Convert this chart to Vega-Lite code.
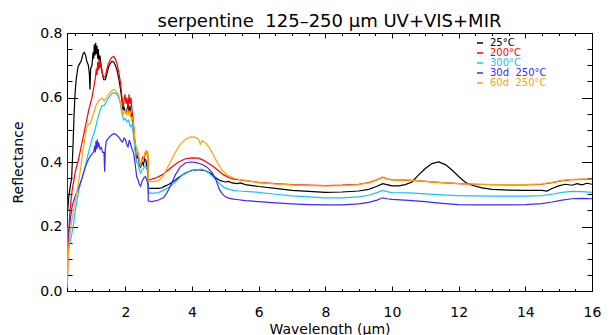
{
"$schema": "https://vega.github.io/schema/vega-lite/v6.json",
"width": 525, "height": 258,
"autosize": "none",
"padding": {"left": 67, "top": 33, "right": 18, "bottom": 44},
"background": "white",
"title": {"text": "serpentine\u00a0 125–250 μm UV+VIS+MIR", "font": "DejaVu Sans", "fontSize": 18, "fontWeight": "normal", "color": "black", "baseline": "alphabetic", "offset": -19, "anchor": "middle"},
"config": {"view": {"stroke": null}, "axis": {"domainColor": "black", "tickColor": "black", "labelColor": "black", "titleColor": "black", "labelFont": "DejaVu Sans", "titleFont": "DejaVu Sans", "labelFontSize": 14, "titleFontSize": 14, "titleFontWeight": "normal", "grid": false, "tickWidth": 1, "domainWidth": 1}},
"data": {"values": [
{"s":"25°C","w":0.25,"r":0.31},{"s":"25°C","w":0.27,"r":0.25},{"s":"25°C","w":0.30,"r":0.29},{"s":"25°C","w":0.34,"r":0.32},{"s":"25°C","w":0.39,"r":0.35},{"s":"25°C","w":0.43,"r":0.45},{"s":"25°C","w":0.46,"r":0.54},{"s":"25°C","w":0.49,"r":0.61},{"s":"25°C","w":0.53,"r":0.66},{"s":"25°C","w":0.58,"r":0.695},{"s":"25°C","w":0.63,"r":0.705},{"s":"25°C","w":0.68,"r":0.715},{"s":"25°C","w":0.73,"r":0.735},{"s":"25°C","w":0.77,"r":0.74},{"s":"25°C","w":0.81,"r":0.73},{"s":"25°C","w":0.85,"r":0.71},{"s":"25°C","w":0.89,"r":0.70},{"s":"25°C","w":0.92,"r":0.675},{"s":"25°C","w":0.94,"r":0.625},{"s":"25°C","w":0.96,"r":0.69},{"s":"25°C","w":1.00,"r":0.70},{"s":"25°C","w":1.03,"r":0.74},{"s":"25°C","w":1.05,"r":0.72},{"s":"25°C","w":1.07,"r":0.765},{"s":"25°C","w":1.09,"r":0.73},{"s":"25°C","w":1.11,"r":0.77},{"s":"25°C","w":1.13,"r":0.735},{"s":"25°C","w":1.15,"r":0.76},{"s":"25°C","w":1.17,"r":0.72},{"s":"25°C","w":1.19,"r":0.75},{"s":"25°C","w":1.21,"r":0.715},{"s":"25°C","w":1.24,"r":0.73},{"s":"25°C","w":1.27,"r":0.70},{"s":"25°C","w":1.31,"r":0.675},{"s":"25°C","w":1.35,"r":0.655},{"s":"25°C","w":1.40,"r":0.655},{"s":"25°C","w":1.45,"r":0.675},{"s":"25°C","w":1.50,"r":0.695},{"s":"25°C","w":1.55,"r":0.706},{"s":"25°C","w":1.60,"r":0.712},{"s":"25°C","w":1.65,"r":0.71},{"s":"25°C","w":1.70,"r":0.70},{"s":"25°C","w":1.75,"r":0.685},{"s":"25°C","w":1.80,"r":0.66},{"s":"25°C","w":1.85,"r":0.63},{"s":"25°C","w":1.90,"r":0.59},{"s":"25°C","w":1.93,"r":0.56},{"s":"25°C","w":1.96,"r":0.57},{"s":"25°C","w":2.00,"r":0.555},{"s":"25°C","w":2.05,"r":0.56},{"s":"25°C","w":2.08,"r":0.58},{"s":"25°C","w":2.11,"r":0.55},{"s":"25°C","w":2.14,"r":0.575},{"s":"25°C","w":2.17,"r":0.54},{"s":"25°C","w":2.20,"r":0.55},{"s":"25°C","w":2.24,"r":0.51},{"s":"25°C","w":2.28,"r":0.46},{"s":"25°C","w":2.31,"r":0.43},{"s":"25°C","w":2.34,"r":0.41},{"s":"25°C","w":2.38,"r":0.42},{"s":"25°C","w":2.42,"r":0.395},{"s":"25°C","w":2.46,"r":0.385},{"s":"25°C","w":2.50,"r":0.40},{"s":"25°C","w":2.54,"r":0.39},{"s":"25°C","w":2.58,"r":0.41},{"s":"25°C","w":2.62,"r":0.405},{"s":"25°C","w":2.65,"r":0.38},{"s":"25°C","w":2.68,"r":0.37},{"s":"25°C","w":2.69,"r":0.319},{"s":"25°C","w":2.80,"r":0.318},{"s":"25°C","w":2.90,"r":0.318},{"s":"25°C","w":3.00,"r":0.318},{"s":"25°C","w":3.10,"r":0.32},{"s":"25°C","w":3.20,"r":0.326},{"s":"25°C","w":3.30,"r":0.33},{"s":"25°C","w":3.45,"r":0.34},{"s":"25°C","w":3.60,"r":0.352},{"s":"25°C","w":3.80,"r":0.366},{"s":"25°C","w":4.00,"r":0.374},{"s":"25°C","w":4.20,"r":0.376},{"s":"25°C","w":4.40,"r":0.373},{"s":"25°C","w":4.55,"r":0.366},{"s":"25°C","w":4.70,"r":0.352},{"s":"25°C","w":4.85,"r":0.342},{"s":"25°C","w":5.00,"r":0.338},{"s":"25°C","w":5.10,"r":0.34},{"s":"25°C","w":5.20,"r":0.335},{"s":"25°C","w":5.35,"r":0.333},{"s":"25°C","w":5.45,"r":0.335},{"s":"25°C","w":5.60,"r":0.33},{"s":"25°C","w":6.00,"r":0.324},{"s":"25°C","w":6.50,"r":0.318},{"s":"25°C","w":7.00,"r":0.312},{"s":"25°C","w":7.50,"r":0.309},{"s":"25°C","w":8.00,"r":0.306},{"s":"25°C","w":8.50,"r":0.307},{"s":"25°C","w":9.00,"r":0.31},{"s":"25°C","w":9.30,"r":0.315},{"s":"25°C","w":9.55,"r":0.325},{"s":"25°C","w":9.72,"r":0.333},{"s":"25°C","w":9.85,"r":0.33},{"s":"25°C","w":10.00,"r":0.326},{"s":"25°C","w":10.20,"r":0.326},{"s":"25°C","w":10.40,"r":0.33},{"s":"25°C","w":10.60,"r":0.338},{"s":"25°C","w":10.80,"r":0.36},{"s":"25°C","w":11.00,"r":0.38},{"s":"25°C","w":11.20,"r":0.395},{"s":"25°C","w":11.40,"r":0.40},{"s":"25°C","w":11.60,"r":0.392},{"s":"25°C","w":11.80,"r":0.375},{"s":"25°C","w":12.00,"r":0.355},{"s":"25°C","w":12.20,"r":0.337},{"s":"25°C","w":12.40,"r":0.328},{"s":"25°C","w":12.70,"r":0.32},{"s":"25°C","w":13.00,"r":0.315},{"s":"25°C","w":13.50,"r":0.313},{"s":"25°C","w":14.00,"r":0.312},{"s":"25°C","w":14.50,"r":0.312},{"s":"25°C","w":14.65,"r":0.31},{"s":"25°C","w":14.80,"r":0.318},{"s":"25°C","w":15.00,"r":0.326},{"s":"25°C","w":15.20,"r":0.331},{"s":"25°C","w":15.40,"r":0.328},{"s":"25°C","w":15.55,"r":0.333},{"s":"25°C","w":15.70,"r":0.329},{"s":"25°C","w":15.85,"r":0.334},{"s":"25°C","w":16.00,"r":0.331},
{"s":"200°C","w":0.25,"r":0.03},{"s":"200°C","w":0.26,"r":0.02},{"s":"200°C","w":0.29,"r":0.15},{"s":"200°C","w":0.34,"r":0.25},{"s":"200°C","w":0.40,"r":0.31},{"s":"200°C","w":0.50,"r":0.37},{"s":"200°C","w":0.60,"r":0.41},{"s":"200°C","w":0.70,"r":0.46},{"s":"200°C","w":0.80,"r":0.51},{"s":"200°C","w":0.90,"r":0.56},{"s":"200°C","w":1.00,"r":0.60},{"s":"200°C","w":1.05,"r":0.63},{"s":"200°C","w":1.10,"r":0.66},{"s":"200°C","w":1.13,"r":0.69},{"s":"200°C","w":1.15,"r":0.67},{"s":"200°C","w":1.17,"r":0.71},{"s":"200°C","w":1.19,"r":0.685},{"s":"200°C","w":1.21,"r":0.72},{"s":"200°C","w":1.23,"r":0.69},{"s":"200°C","w":1.26,"r":0.71},{"s":"200°C","w":1.30,"r":0.68},{"s":"200°C","w":1.35,"r":0.66},{"s":"200°C","w":1.40,"r":0.665},{"s":"200°C","w":1.45,"r":0.69},{"s":"200°C","w":1.50,"r":0.706},{"s":"200°C","w":1.55,"r":0.718},{"s":"200°C","w":1.60,"r":0.725},{"s":"200°C","w":1.65,"r":0.727},{"s":"200°C","w":1.70,"r":0.72},{"s":"200°C","w":1.75,"r":0.705},{"s":"200°C","w":1.80,"r":0.68},{"s":"200°C","w":1.85,"r":0.65},{"s":"200°C","w":1.90,"r":0.60},{"s":"200°C","w":1.93,"r":0.57},{"s":"200°C","w":1.96,"r":0.59},{"s":"200°C","w":1.99,"r":0.61},{"s":"200°C","w":2.02,"r":0.58},{"s":"200°C","w":2.05,"r":0.60},{"s":"200°C","w":2.08,"r":0.565},{"s":"200°C","w":2.11,"r":0.61},{"s":"200°C","w":2.14,"r":0.58},{"s":"200°C","w":2.17,"r":0.60},{"s":"200°C","w":2.20,"r":0.56},{"s":"200°C","w":2.24,"r":0.53},{"s":"200°C","w":2.28,"r":0.47},{"s":"200°C","w":2.31,"r":0.45},{"s":"200°C","w":2.34,"r":0.44},{"s":"200°C","w":2.37,"r":0.43},{"s":"200°C","w":2.40,"r":0.415},{"s":"200°C","w":2.44,"r":0.39},{"s":"200°C","w":2.48,"r":0.40},{"s":"200°C","w":2.52,"r":0.415},{"s":"200°C","w":2.56,"r":0.41},{"s":"200°C","w":2.60,"r":0.43},{"s":"200°C","w":2.63,"r":0.425},{"s":"200°C","w":2.66,"r":0.43},{"s":"200°C","w":2.68,"r":0.41},{"s":"200°C","w":2.69,"r":0.344},{"s":"200°C","w":2.80,"r":0.347},{"s":"200°C","w":2.95,"r":0.352},{"s":"200°C","w":3.10,"r":0.36},{"s":"200°C","w":3.25,"r":0.372},{"s":"200°C","w":3.40,"r":0.385},{"s":"200°C","w":3.60,"r":0.40},{"s":"200°C","w":3.80,"r":0.41},{"s":"200°C","w":4.00,"r":0.413},{"s":"200°C","w":4.20,"r":0.412},{"s":"200°C","w":4.35,"r":0.405},{"s":"200°C","w":4.50,"r":0.395},{"s":"200°C","w":4.65,"r":0.385},{"s":"200°C","w":4.80,"r":0.372},{"s":"200°C","w":4.95,"r":0.36},{"s":"200°C","w":5.10,"r":0.352},{"s":"200°C","w":5.25,"r":0.347},{"s":"200°C","w":5.40,"r":0.345},{"s":"200°C","w":5.60,"r":0.342},{"s":"200°C","w":6.00,"r":0.337},{"s":"200°C","w":6.50,"r":0.333},{"s":"200°C","w":7.00,"r":0.33},{"s":"200°C","w":7.50,"r":0.328},{"s":"200°C","w":8.00,"r":0.327},{"s":"200°C","w":8.50,"r":0.328},{"s":"200°C","w":9.00,"r":0.331},{"s":"200°C","w":9.30,"r":0.336},{"s":"200°C","w":9.55,"r":0.345},{"s":"200°C","w":9.72,"r":0.353},{"s":"200°C","w":9.85,"r":0.348},{"s":"200°C","w":10.00,"r":0.345},{"s":"200°C","w":10.30,"r":0.344},{"s":"200°C","w":10.60,"r":0.343},{"s":"200°C","w":11.00,"r":0.34},{"s":"200°C","w":11.50,"r":0.336},{"s":"200°C","w":12.00,"r":0.333},{"s":"200°C","w":12.50,"r":0.331},{"s":"200°C","w":13.00,"r":0.33},{"s":"200°C","w":13.50,"r":0.329},{"s":"200°C","w":14.00,"r":0.329},{"s":"200°C","w":14.50,"r":0.331},{"s":"200°C","w":14.80,"r":0.336},{"s":"200°C","w":15.10,"r":0.342},{"s":"200°C","w":15.40,"r":0.345},{"s":"200°C","w":15.70,"r":0.346},{"s":"200°C","w":16.00,"r":0.346},
{"s":"300°C","w":0.25,"r":0.16},{"s":"300°C","w":0.27,"r":0.10},{"s":"300°C","w":0.32,"r":0.14},{"s":"300°C","w":0.40,"r":0.18},{"s":"300°C","w":0.45,"r":0.21},{"s":"300°C","w":0.50,"r":0.25},{"s":"300°C","w":0.60,"r":0.31},{"s":"300°C","w":0.70,"r":0.35},{"s":"300°C","w":0.76,"r":0.37},{"s":"300°C","w":0.85,"r":0.41},{"s":"300°C","w":0.94,"r":0.447},{"s":"300°C","w":1.00,"r":0.47},{"s":"300°C","w":1.09,"r":0.50},{"s":"300°C","w":1.16,"r":0.53},{"s":"300°C","w":1.24,"r":0.56},{"s":"300°C","w":1.30,"r":0.575},{"s":"300°C","w":1.36,"r":0.575},{"s":"300°C","w":1.42,"r":0.585},{"s":"300°C","w":1.50,"r":0.60},{"s":"300°C","w":1.60,"r":0.612},{"s":"300°C","w":1.68,"r":0.615},{"s":"300°C","w":1.75,"r":0.61},{"s":"300°C","w":1.80,"r":0.60},{"s":"300°C","w":1.85,"r":0.58},{"s":"300°C","w":1.90,"r":0.55},{"s":"300°C","w":1.95,"r":0.53},{"s":"300°C","w":2.00,"r":0.535},{"s":"300°C","w":2.05,"r":0.525},{"s":"300°C","w":2.10,"r":0.53},{"s":"300°C","w":2.15,"r":0.51},{"s":"300°C","w":2.20,"r":0.515},{"s":"300°C","w":2.25,"r":0.48},{"s":"300°C","w":2.30,"r":0.43},{"s":"300°C","w":2.34,"r":0.40},{"s":"300°C","w":2.38,"r":0.395},{"s":"300°C","w":2.42,"r":0.375},{"s":"300°C","w":2.46,"r":0.366},{"s":"300°C","w":2.50,"r":0.375},{"s":"300°C","w":2.55,"r":0.38},{"s":"300°C","w":2.60,"r":0.39},{"s":"300°C","w":2.64,"r":0.385},{"s":"300°C","w":2.68,"r":0.38},{"s":"300°C","w":2.69,"r":0.305},{"s":"300°C","w":2.80,"r":0.303},{"s":"300°C","w":3.00,"r":0.305},{"s":"300°C","w":3.20,"r":0.315},{"s":"300°C","w":3.35,"r":0.325},{"s":"300°C","w":3.50,"r":0.338},{"s":"300°C","w":3.70,"r":0.358},{"s":"300°C","w":3.90,"r":0.37},{"s":"300°C","w":4.10,"r":0.376},{"s":"300°C","w":4.30,"r":0.378},{"s":"300°C","w":4.50,"r":0.367},{"s":"300°C","w":4.65,"r":0.352},{"s":"300°C","w":4.80,"r":0.336},{"s":"300°C","w":4.95,"r":0.322},{"s":"300°C","w":5.10,"r":0.315},{"s":"300°C","w":5.25,"r":0.312},{"s":"300°C","w":5.40,"r":0.31},{"s":"300°C","w":5.60,"r":0.309},{"s":"300°C","w":6.00,"r":0.306},{"s":"300°C","w":6.50,"r":0.30},{"s":"300°C","w":7.00,"r":0.295},{"s":"300°C","w":7.50,"r":0.292},{"s":"300°C","w":8.00,"r":0.289},{"s":"300°C","w":8.50,"r":0.289},{"s":"300°C","w":9.00,"r":0.292},{"s":"300°C","w":9.30,"r":0.297},{"s":"300°C","w":9.55,"r":0.305},{"s":"300°C","w":9.72,"r":0.312},{"s":"300°C","w":9.85,"r":0.308},{"s":"300°C","w":10.00,"r":0.305},{"s":"300°C","w":10.50,"r":0.304},{"s":"300°C","w":11.00,"r":0.301},{"s":"300°C","w":11.50,"r":0.298},{"s":"300°C","w":12.00,"r":0.296},{"s":"300°C","w":12.50,"r":0.295},{"s":"300°C","w":13.00,"r":0.294},{"s":"300°C","w":13.50,"r":0.294},{"s":"300°C","w":14.00,"r":0.294},{"s":"300°C","w":14.50,"r":0.296},{"s":"300°C","w":14.80,"r":0.30},{"s":"300°C","w":15.10,"r":0.306},{"s":"300°C","w":15.40,"r":0.309},{"s":"300°C","w":15.70,"r":0.308},{"s":"300°C","w":16.00,"r":0.306},
{"s":"30d 250°C","w":0.25,"r":0.44},{"s":"30d 250°C","w":0.255,"r":0.14},{"s":"30d 250°C","w":0.28,"r":0.17},{"s":"30d 250°C","w":0.32,"r":0.20},{"s":"30d 250°C","w":0.36,"r":0.23},{"s":"30d 250°C","w":0.40,"r":0.26},{"s":"30d 250°C","w":0.45,"r":0.28},{"s":"30d 250°C","w":0.52,"r":0.30},{"s":"30d 250°C","w":0.60,"r":0.32},{"s":"30d 250°C","w":0.70,"r":0.35},{"s":"30d 250°C","w":0.80,"r":0.385},{"s":"30d 250°C","w":0.90,"r":0.41},{"s":"30d 250°C","w":1.00,"r":0.425},{"s":"30d 250°C","w":1.05,"r":0.43},{"s":"30d 250°C","w":1.08,"r":0.45},{"s":"30d 250°C","w":1.10,"r":0.43},{"s":"30d 250°C","w":1.12,"r":0.465},{"s":"30d 250°C","w":1.14,"r":0.44},{"s":"30d 250°C","w":1.16,"r":0.47},{"s":"30d 250°C","w":1.18,"r":0.445},{"s":"30d 250°C","w":1.20,"r":0.46},{"s":"30d 250°C","w":1.24,"r":0.44},{"s":"30d 250°C","w":1.28,"r":0.445},{"s":"30d 250°C","w":1.32,"r":0.43},{"s":"30d 250°C","w":1.36,"r":0.43},{"s":"30d 250°C","w":1.38,"r":0.37},{"s":"30d 250°C","w":1.40,"r":0.44},{"s":"30d 250°C","w":1.43,"r":0.465},{"s":"30d 250°C","w":1.50,"r":0.475},{"s":"30d 250°C","w":1.60,"r":0.485},{"s":"30d 250°C","w":1.68,"r":0.488},{"s":"30d 250°C","w":1.75,"r":0.482},{"s":"30d 250°C","w":1.82,"r":0.475},{"s":"30d 250°C","w":1.88,"r":0.465},{"s":"30d 250°C","w":1.92,"r":0.462},{"s":"30d 250°C","w":1.96,"r":0.474},{"s":"30d 250°C","w":2.00,"r":0.47},{"s":"30d 250°C","w":2.04,"r":0.455},{"s":"30d 250°C","w":2.08,"r":0.447},{"s":"30d 250°C","w":2.12,"r":0.468},{"s":"30d 250°C","w":2.16,"r":0.455},{"s":"30d 250°C","w":2.20,"r":0.44},{"s":"30d 250°C","w":2.25,"r":0.427},{"s":"30d 250°C","w":2.30,"r":0.39},{"s":"30d 250°C","w":2.34,"r":0.354},{"s":"30d 250°C","w":2.38,"r":0.345},{"s":"30d 250°C","w":2.42,"r":0.33},{"s":"30d 250°C","w":2.46,"r":0.325},{"s":"30d 250°C","w":2.50,"r":0.34},{"s":"30d 250°C","w":2.55,"r":0.35},{"s":"30d 250°C","w":2.60,"r":0.355},{"s":"30d 250°C","w":2.64,"r":0.345},{"s":"30d 250°C","w":2.68,"r":0.33},{"s":"30d 250°C","w":2.69,"r":0.279},{"s":"30d 250°C","w":2.80,"r":0.277},{"s":"30d 250°C","w":3.00,"r":0.282},{"s":"30d 250°C","w":3.15,"r":0.29},{"s":"30d 250°C","w":3.25,"r":0.305},{"s":"30d 250°C","w":3.35,"r":0.325},{"s":"30d 250°C","w":3.50,"r":0.36},{"s":"30d 250°C","w":3.65,"r":0.385},{"s":"30d 250°C","w":3.80,"r":0.397},{"s":"30d 250°C","w":3.95,"r":0.40},{"s":"30d 250°C","w":4.10,"r":0.399},{"s":"30d 250°C","w":4.30,"r":0.393},{"s":"30d 250°C","w":4.45,"r":0.384},{"s":"30d 250°C","w":4.60,"r":0.368},{"s":"30d 250°C","w":4.72,"r":0.345},{"s":"30d 250°C","w":4.82,"r":0.315},{"s":"30d 250°C","w":4.90,"r":0.302},{"s":"30d 250°C","w":5.00,"r":0.292},{"s":"30d 250°C","w":5.10,"r":0.288},{"s":"30d 250°C","w":5.25,"r":0.285},{"s":"30d 250°C","w":5.40,"r":0.283},{"s":"30d 250°C","w":5.60,"r":0.28},{"s":"30d 250°C","w":6.00,"r":0.277},{"s":"30d 250°C","w":6.50,"r":0.273},{"s":"30d 250°C","w":7.00,"r":0.27},{"s":"30d 250°C","w":7.50,"r":0.268},{"s":"30d 250°C","w":8.00,"r":0.267},{"s":"30d 250°C","w":8.50,"r":0.267},{"s":"30d 250°C","w":9.00,"r":0.27},{"s":"30d 250°C","w":9.30,"r":0.275},{"s":"30d 250°C","w":9.55,"r":0.282},{"s":"30d 250°C","w":9.72,"r":0.289},{"s":"30d 250°C","w":9.85,"r":0.286},{"s":"30d 250°C","w":10.00,"r":0.284},{"s":"30d 250°C","w":10.50,"r":0.281},{"s":"30d 250°C","w":11.00,"r":0.277},{"s":"30d 250°C","w":11.50,"r":0.272},{"s":"30d 250°C","w":12.00,"r":0.268},{"s":"30d 250°C","w":12.50,"r":0.267},{"s":"30d 250°C","w":13.00,"r":0.267},{"s":"30d 250°C","w":13.50,"r":0.267},{"s":"30d 250°C","w":14.00,"r":0.268},{"s":"30d 250°C","w":14.50,"r":0.271},{"s":"30d 250°C","w":14.80,"r":0.276},{"s":"30d 250°C","w":15.10,"r":0.282},{"s":"30d 250°C","w":15.40,"r":0.286},{"s":"30d 250°C","w":15.70,"r":0.287},{"s":"30d 250°C","w":16.00,"r":0.286},
{"s":"60d 250°C","w":0.25,"r":0.20},{"s":"60d 250°C","w":0.255,"r":0.01},{"s":"60d 250°C","w":0.28,"r":0.10},{"s":"60d 250°C","w":0.32,"r":0.16},{"s":"60d 250°C","w":0.38,"r":0.21},{"s":"60d 250°C","w":0.45,"r":0.25},{"s":"60d 250°C","w":0.52,"r":0.29},{"s":"60d 250°C","w":0.60,"r":0.34},{"s":"60d 250°C","w":0.66,"r":0.38},{"s":"60d 250°C","w":0.72,"r":0.43},{"s":"60d 250°C","w":0.78,"r":0.47},{"s":"60d 250°C","w":0.83,"r":0.505},{"s":"60d 250°C","w":0.88,"r":0.515},{"s":"60d 250°C","w":0.95,"r":0.52},{"s":"60d 250°C","w":1.00,"r":0.535},{"s":"60d 250°C","w":1.06,"r":0.555},{"s":"60d 250°C","w":1.12,"r":0.575},{"s":"60d 250°C","w":1.20,"r":0.59},{"s":"60d 250°C","w":1.30,"r":0.598},{"s":"60d 250°C","w":1.36,"r":0.59},{"s":"60d 250°C","w":1.42,"r":0.597},{"s":"60d 250°C","w":1.50,"r":0.61},{"s":"60d 250°C","w":1.57,"r":0.619},{"s":"60d 250°C","w":1.65,"r":0.625},{"s":"60d 250°C","w":1.70,"r":0.622},{"s":"60d 250°C","w":1.75,"r":0.617},{"s":"60d 250°C","w":1.80,"r":0.607},{"s":"60d 250°C","w":1.85,"r":0.585},{"s":"60d 250°C","w":1.90,"r":0.56},{"s":"60d 250°C","w":1.93,"r":0.545},{"s":"60d 250°C","w":1.96,"r":0.555},{"s":"60d 250°C","w":2.00,"r":0.56},{"s":"60d 250°C","w":2.04,"r":0.545},{"s":"60d 250°C","w":2.07,"r":0.565},{"s":"60d 250°C","w":2.10,"r":0.545},{"s":"60d 250°C","w":2.14,"r":0.56},{"s":"60d 250°C","w":2.18,"r":0.53},{"s":"60d 250°C","w":2.22,"r":0.54},{"s":"60d 250°C","w":2.26,"r":0.50},{"s":"60d 250°C","w":2.30,"r":0.455},{"s":"60d 250°C","w":2.34,"r":0.44},{"s":"60d 250°C","w":2.38,"r":0.43},{"s":"60d 250°C","w":2.42,"r":0.40},{"s":"60d 250°C","w":2.46,"r":0.39},{"s":"60d 250°C","w":2.50,"r":0.405},{"s":"60d 250°C","w":2.54,"r":0.41},{"s":"60d 250°C","w":2.58,"r":0.425},{"s":"60d 250°C","w":2.62,"r":0.435},{"s":"60d 250°C","w":2.65,"r":0.42},{"s":"60d 250°C","w":2.68,"r":0.43},{"s":"60d 250°C","w":2.69,"r":0.339},{"s":"60d 250°C","w":2.85,"r":0.339},{"s":"60d 250°C","w":3.00,"r":0.342},{"s":"60d 250°C","w":3.10,"r":0.352},{"s":"60d 250°C","w":3.20,"r":0.37},{"s":"60d 250°C","w":3.35,"r":0.40},{"s":"60d 250°C","w":3.50,"r":0.43},{"s":"60d 250°C","w":3.65,"r":0.455},{"s":"60d 250°C","w":3.80,"r":0.47},{"s":"60d 250°C","w":3.95,"r":0.478},{"s":"60d 250°C","w":4.10,"r":0.477},{"s":"60d 250°C","w":4.20,"r":0.47},{"s":"60d 250°C","w":4.25,"r":0.455},{"s":"60d 250°C","w":4.30,"r":0.466},{"s":"60d 250°C","w":4.40,"r":0.46},{"s":"60d 250°C","w":4.50,"r":0.447},{"s":"60d 250°C","w":4.60,"r":0.43},{"s":"60d 250°C","w":4.75,"r":0.40},{"s":"60d 250°C","w":4.90,"r":0.375},{"s":"60d 250°C","w":5.00,"r":0.365},{"s":"60d 250°C","w":5.10,"r":0.357},{"s":"60d 250°C","w":5.25,"r":0.35},{"s":"60d 250°C","w":5.40,"r":0.346},{"s":"60d 250°C","w":5.60,"r":0.343},{"s":"60d 250°C","w":6.00,"r":0.336},{"s":"60d 250°C","w":6.50,"r":0.332},{"s":"60d 250°C","w":7.00,"r":0.329},{"s":"60d 250°C","w":7.50,"r":0.327},{"s":"60d 250°C","w":8.00,"r":0.326},{"s":"60d 250°C","w":8.50,"r":0.327},{"s":"60d 250°C","w":9.00,"r":0.33},{"s":"60d 250°C","w":9.30,"r":0.335},{"s":"60d 250°C","w":9.55,"r":0.344},{"s":"60d 250°C","w":9.72,"r":0.352},{"s":"60d 250°C","w":9.85,"r":0.347},{"s":"60d 250°C","w":10.00,"r":0.344},{"s":"60d 250°C","w":10.50,"r":0.344},{"s":"60d 250°C","w":11.00,"r":0.34},{"s":"60d 250°C","w":11.50,"r":0.336},{"s":"60d 250°C","w":12.00,"r":0.333},{"s":"60d 250°C","w":12.50,"r":0.331},{"s":"60d 250°C","w":13.00,"r":0.33},{"s":"60d 250°C","w":13.50,"r":0.33},{"s":"60d 250°C","w":14.00,"r":0.33},{"s":"60d 250°C","w":14.50,"r":0.332},{"s":"60d 250°C","w":14.80,"r":0.337},{"s":"60d 250°C","w":15.10,"r":0.343},{"s":"60d 250°C","w":15.40,"r":0.346},{"s":"60d 250°C","w":15.70,"r":0.347},{"s":"60d 250°C","w":16.00,"r":0.347}
]},
"layer": [
{"mark": {"type": "line", "strokeWidth": 1.2, "clip": true},
 "encoding": {
  "x": {"field": "w", "type": "quantitative", "scale": {"domain": [0.25, 16], "nice": false, "zero": false},
        "axis": {"orient": "bottom", "values": [2,4,6,8,10,12,14,16], "tickSize": -5, "labelPadding": 19, "labelFlush": false, "labelOverlap": false, "title": "Wavelength (μm)", "titleY": 42, "titleBaseline": "alphabetic"}},
  "y": {"field": "r", "type": "quantitative", "scale": {"domain": [0, 0.8], "nice": false, "zero": false},
        "axis": {"orient": "left", "values": [0,0.2,0.4,0.6,0.8], "format": ".1f", "tickSize": -10.5, "labelPadding": 15.5, "labelFlush": false, "labelOverlap": false, "title": "Reflectance", "titleX": -49, "titleBaseline": "middle"}},
  "color": {"field": "s", "type": "nominal",
        "scale": {"domain": ["25°C","200°C","300°C","30d 250°C","60d 250°C"], "range": ["#000000","#ff0000","#19c0ff","#3c28ff","#ffa500"]},
        "legend": {"orient": "none", "legendX": 408, "legendY": 5, "title": null, "symbolType": "stroke", "symbolSize": 36, "symbolStrokeWidth": 1.5, "labelFont": "DejaVu Sans", "labelFontSize": 10, "labelOffset": 5, "rowPadding": 0, "padding": 0, "labelExpr": "replace(datum.label, ' ', '\u00a0 ')",
                   "encode": {"labels": {"update": {"fill": {"scale": "color", "field": "value"}}}}}}
 }},
{"mark": {"type": "line", "opacity": 0},
 "encoding": {
  "x": {"field": "w", "type": "quantitative", "axis": {"orient": "bottom", "values": [0.5,1,1.5,2,2.5,3,3.5,4,4.5,5,5.5,6,6.5,7,7.5,8,8.5,9,9.5,10,10.5,11,11.5,12,12.5,13,13.5,14,14.5,15,15.5,16], "tickSize": -2.5, "labels": false, "title": null}},
  "y": {"field": "r", "type": "quantitative", "axis": {"orient": "left", "values": [0.05,0.1,0.15,0.2,0.25,0.3,0.35,0.4,0.45,0.5,0.55,0.6,0.65,0.7,0.75], "tickSize": -5, "labels": false, "title": null}}
 }},
{"mark": {"type": "line", "opacity": 0},
 "encoding": {
  "x": {"field": "w", "type": "quantitative", "axis": {"orient": "top", "values": [2,4,6,8,10,12,14,16], "tickSize": -5, "labels": false, "title": null}},
  "y": {"field": "r", "type": "quantitative", "axis": {"orient": "right", "values": [0,0.2,0.4,0.6,0.8], "tickSize": -10.5, "labels": false, "title": null}}
 }},
{"mark": {"type": "line", "opacity": 0},
 "encoding": {
  "x": {"field": "w", "type": "quantitative", "axis": {"orient": "top", "values": [0.5,1,1.5,2,2.5,3,3.5,4,4.5,5,5.5,6,6.5,7,7.5,8,8.5,9,9.5,10,10.5,11,11.5,12,12.5,13,13.5,14,14.5,15,15.5,16], "tickSize": -2.5, "labels": false, "title": null}},
  "y": {"field": "r", "type": "quantitative", "axis": {"orient": "right", "values": [0.05,0.1,0.15,0.2,0.25,0.3,0.35,0.4,0.45,0.5,0.55,0.6,0.65,0.7,0.75], "tickSize": -5, "labels": false, "title": null}}
 }}
],
"resolve": {"axis": {"x": "independent", "y": "independent"}}
}
